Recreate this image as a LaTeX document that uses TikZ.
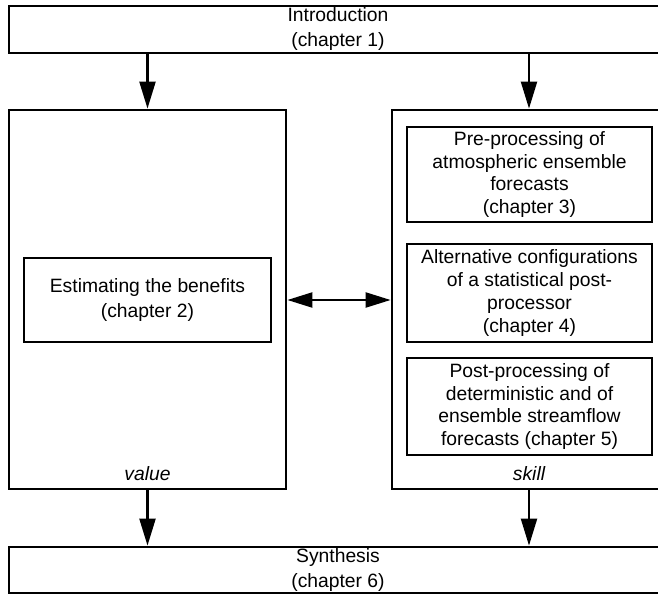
\documentclass[tikz,border=0pt]{standalone}
\usepackage{fontspec}
\setmainfont{Liberation Sans}
\usetikzlibrary{arrows.meta}
\tikzset{
  outerbox/.style={draw=black, line width=2.8pt, rectangle, inner sep=0pt, align=center},
  innerbox/.style={draw=black, line width=2.4pt, rectangle, inner sep=0pt, align=center,
    font=\fontsize{19.3}{22.7}\selectfont},
  twoline/.style={font=\fontsize{19.3}{25}\selectfont},
  lbl/.style={inner sep=0pt, font=\fontsize{19.3}{22.7}\selectfont\itshape},
  arr/.style={line width=2.2pt, -{Triangle[length=27pt,width=16pt]}},
  darr/.style={line width=2.2pt, {Triangle[length=25pt,width=15pt]}-{Triangle[length=25pt,width=15pt]}}
}
\begin{document}
\begin{tikzpicture}[x=1pt, y=-1pt]
\clip (0,0) rectangle (658,594);
\fill[white] (0,0) rectangle (658,594);
% top and bottom boxes
\node[outerbox, twoline, minimum width=658pt, minimum height=47pt] (intro) at (338,29.5)
  {Introduction\\(chapter 1)};
\node[outerbox, twoline, minimum width=658pt, minimum height=46pt] (synth) at (338,570)
  {Synthesis\\(chapter 6)};
% big boxes
\node[outerbox, minimum width=277pt, minimum height=379pt] (valuebox) at (147.5,299.5) {};
\node[outerbox, minimum width=274pt, minimum height=379pt] (skillbox) at (529,299.5) {};
\node[lbl] (valuelbl) at (147.5,474) {value};
\node[lbl] (skilllbl) at (529,474) {skill};
% inner boxes
\node[innerbox, twoline, minimum width=247pt, minimum height=84pt] (est) at (147.5,300)
  {Estimating the benefits\\(chapter 2)};
\node[innerbox, minimum width=245pt, minimum height=95pt] (pre) at (529.5,174.5)
  {Pre-processing of\\atmospheric ensemble\\forecasts\\(chapter 3)};
\node[innerbox, minimum width=245pt, minimum height=98pt] (alt) at (529.5,293)
  {Alternative configurations\\of a statistical post-\\processor\\(chapter 4)};
\node[innerbox, minimum width=245pt, minimum height=97pt] (post) at (529.5,406.5)
  {Post-processing of\\deterministic and of\\ensemble streamflow\\forecasts (chapter 5)};
% connectors
\draw[arr] (intro.south -| valuebox.north) -- (valuebox.north);
\draw[arr] (intro.south -| skillbox.north) -- (skillbox.north);
\draw[arr] (valuebox.south) -- (synth.north -| valuebox.south);
\draw[arr] (skillbox.south) -- (synth.north -| skillbox.south);
\draw[darr] (valuebox.east |- est.center) -- (skillbox.west |- est.center);
\end{tikzpicture}
\end{document}
